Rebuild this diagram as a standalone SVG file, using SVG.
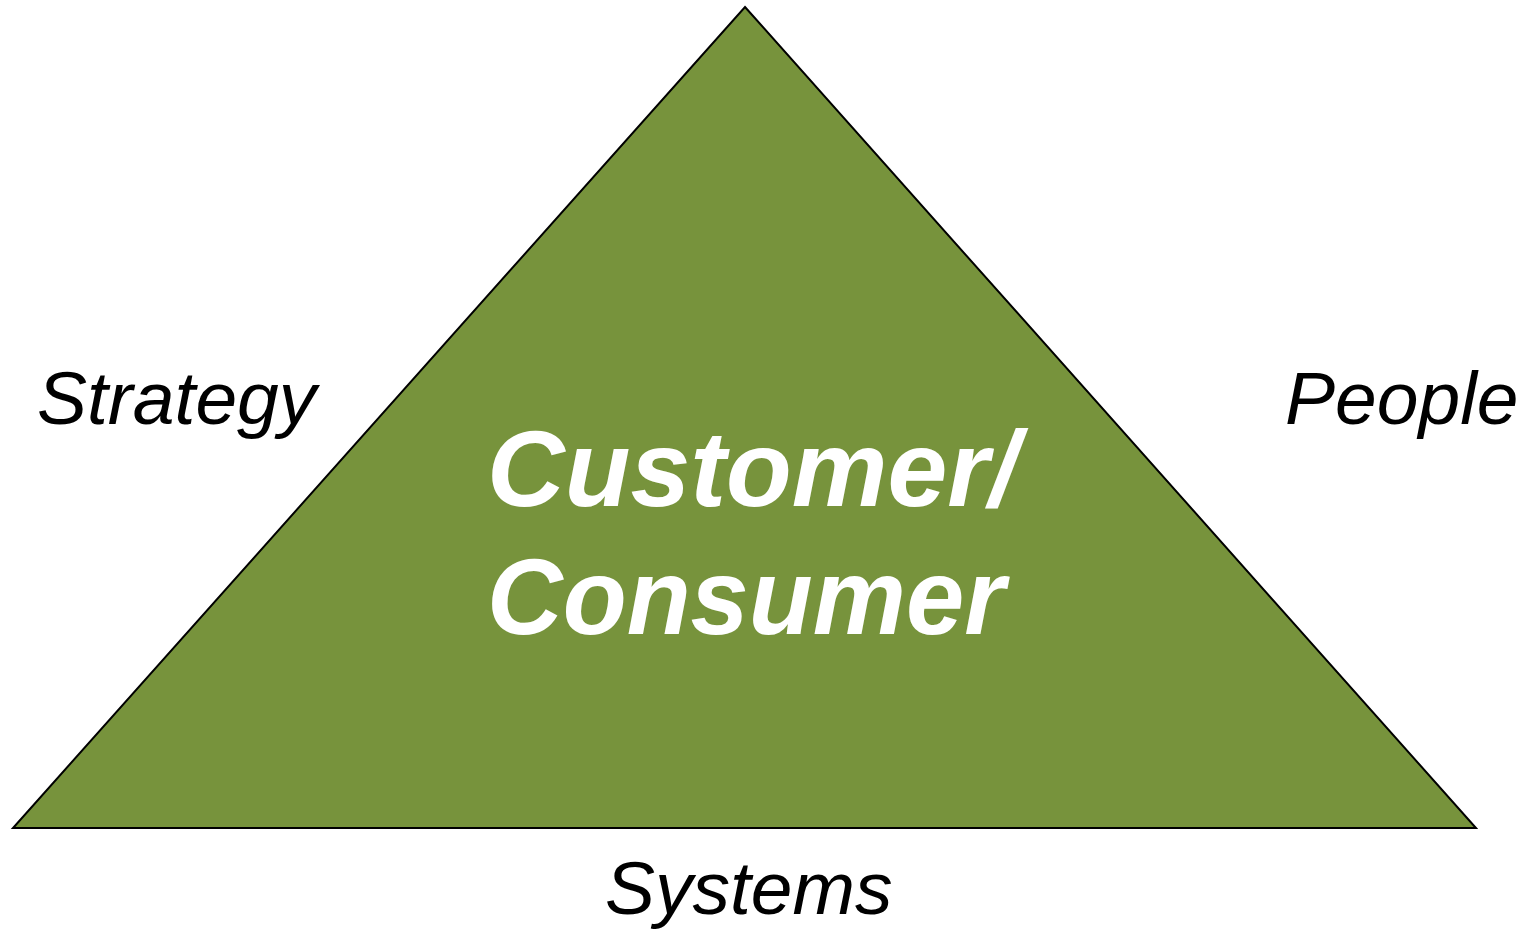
<svg xmlns="http://www.w3.org/2000/svg" width="1521" height="932" viewBox="0 0 1521 932">
<style>
.lbl{font-family:"Liberation Sans",Arial,sans-serif;font-style:italic;font-size:75px;fill:#000}
.ctr{font-family:"Liberation Sans",Arial,sans-serif;font-style:italic;font-weight:bold;font-size:108px;fill:#fff}
</style>
<rect width="1521" height="932" fill="#fff"/>
<g id="triangle">
<polygon points="745,7 1476,828 13,828" fill="#77933C" stroke="#000" stroke-width="2" stroke-linejoin="miter"/>
<text class="ctr" x="487" y="506" textLength="532" lengthAdjust="spacingAndGlyphs">Customer/</text>
<text class="ctr" x="487" y="634" textLength="518" lengthAdjust="spacingAndGlyphs">Consumer</text>
</g>
<g id="strategy"><text class="lbl" x="37" y="424">Strategy</text></g>
<g id="people"><text class="lbl" x="1285" y="424">People</text></g>
<g id="systems"><text class="lbl" x="605" y="914">Systems</text></g>
<g id="connectors"></g>
</svg>
